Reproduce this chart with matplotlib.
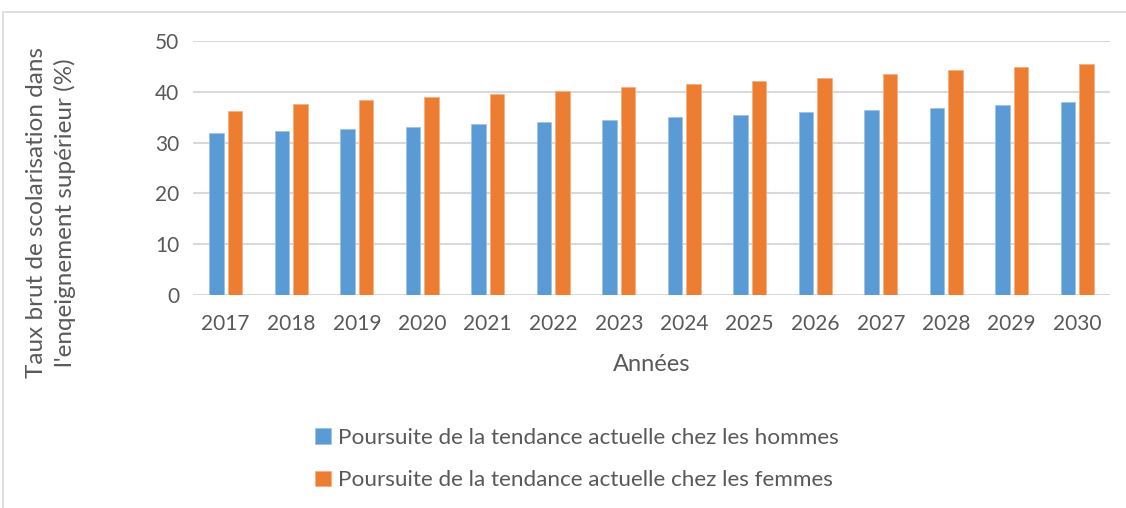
import matplotlib
matplotlib.use("Agg")
import matplotlib.pyplot as plt
import numpy as np
from matplotlib.patches import Rectangle

years = ["2017", "2018", "2019", "2020", "2021", "2022", "2023",
         "2024", "2025", "2026", "2027", "2028", "2029", "2030"]
hommes = [31.8, 32.2, 32.6, 33.1, 33.6, 34.0, 34.5,
          35.0, 35.5, 36.0, 36.5, 36.9, 37.4, 37.9]
femmes = [36.2, 37.6, 38.3, 38.9, 39.6, 40.2, 40.9,
          41.5, 42.2, 42.8, 43.6, 44.2, 44.8, 45.5]
label_h = "Poursuite de la tendance actuelle chez les hommes"
label_f = "Poursuite de la tendance actuelle chez les femmes"
ylabel = "Taux brut de scolarisation dans\nl'enqeignement supérieur (%)"
xlabel = "Années"

plt.rcParams['font.family'] = ['Lato', 'DejaVu Sans']
txt = '#595959'

W, H = 1126, 508
fig = plt.figure(figsize=(W/100, H/100), dpi=100)
# outer chart border (right and bottom edges fall outside the image)
fig.patches.append(Rectangle((3/W, -0.2), 1.2, 1.2 - 12/H, transform=fig.transFigure,
                             fill=False, edgecolor='#d9d9d9', linewidth=1.2))

ax = fig.add_axes([193/W, 1 - 295/H, (1110-193)/W, (295-41)/H])
x = np.arange(len(years))
bw = 0.225
off = 0.143
ax.bar(x - off, hommes, bw, color='#5b9bd5', edgecolor='#9dc3e6', linewidth=0.6,
       label=label_h, zorder=3)
ax.bar(x + off, femmes, bw, color='#ed7d31', edgecolor='#f4b183', linewidth=0.6,
       label=label_f, zorder=3)
ax.set_xlim(-0.5, len(years) - 0.5)
ax.set_ylim(0, 50)
ax.set_yticks(range(0, 51, 10))
ax.set_xticks(x)
ax.set_xticklabels(years)
ax.grid(axis='y', color='#d9d9d9', linewidth=1.5, zorder=0)
for s in ax.spines.values():
    s.set_visible(False)
ax.tick_params(axis='both', length=0, labelsize=15, colors=txt)
ax.tick_params(axis='y', pad=10)
ax.tick_params(axis='x', pad=14)
ax.set_xlabel(xlabel, fontsize=17, color=txt, labelpad=14)
fig.text(51/W, 1 - 213/H, ylabel, rotation=90, ha='center', va='center',
         fontsize=17.5, color=txt, linespacing=1.35, multialignment='center')

h, l = ax.get_legend_handles_labels()
leg = fig.legend(h, l, loc='center', bbox_to_anchor=(577/W, 1 - 459/H), ncol=1,
                 frameon=False, fontsize=16.2, handlelength=0.7, handleheight=0.7,
                 handletextpad=0.3, labelspacing=1.0, labelcolor=txt)

fig.savefig("out.png", dpi=100)
